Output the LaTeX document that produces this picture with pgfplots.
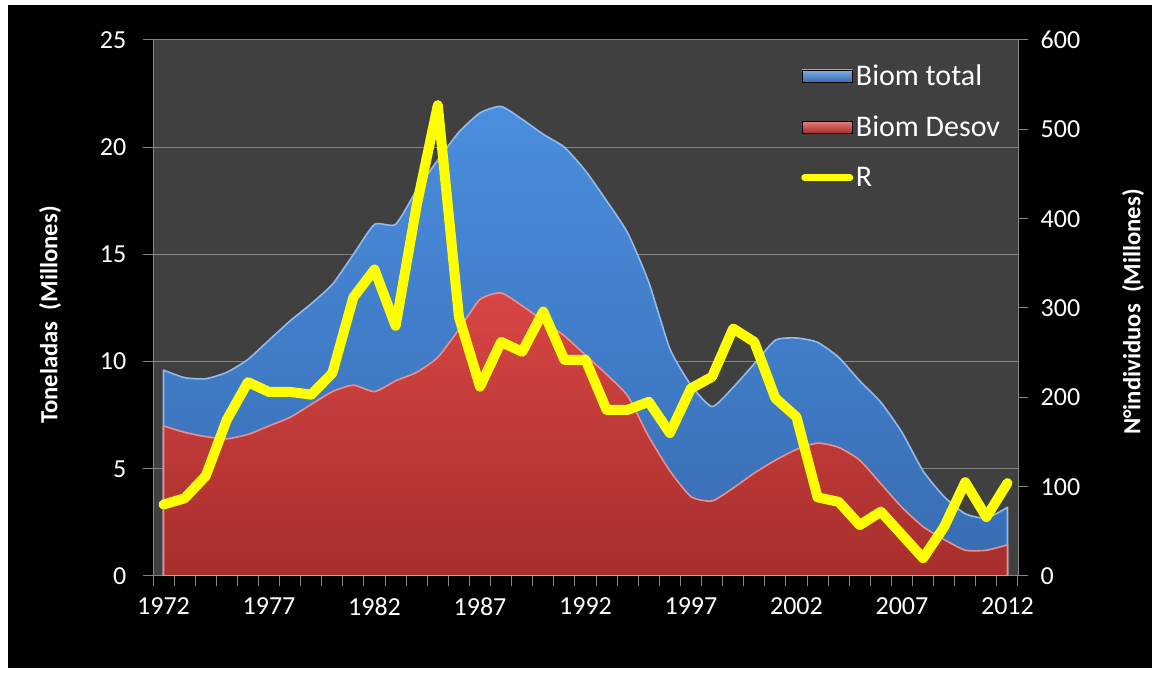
\documentclass[border=0pt]{standalone}
\usepackage{fontspec}
\setmainfont{Carlito}
\usepackage{pgfplots}
\usepackage{pgfplotstable}
\pgfplotsset{compat=1.18}

\definecolor{plotbg}{RGB}{64,64,64}
\definecolor{gridc}{RGB}{134,134,134}
\definecolor{bluetop}{RGB}{74,142,222}
\definecolor{bluebot}{RGB}{56,108,178}
\definecolor{redtop}{RGB}{216,70,68}
\definecolor{redbot}{RGB}{166,46,44}
\definecolor{ryellow}{RGB}{255,255,0}

% biomasa (millones de toneladas)
\pgfplotstableread{
year total desov
1972 9.6 7.0
1973 9.25 6.7
1974 9.2 6.5
1975 9.5 6.4
1976 10.1 6.6
1977 11.0 7.0
1978 11.9 7.4
1979 12.7 8.0
1980 13.6 8.6
1981 15.0 8.9
1982 16.4 8.6
1983 16.4 9.1
1984 18.0 9.5
1985 19.4 10.2
1986 20.7 11.5
1987 21.6 12.9
1988 21.9 13.2
1989 21.3 12.6
1990 20.6 11.9
1991 20.0 11.2
1992 18.9 10.3
1993 17.5 9.4
1994 16.0 8.4
1995 13.7 6.5
1996 10.6 4.9
1997 8.9 3.7
1998 7.9 3.5
1999 8.8 4.1
2000 9.9 4.8
2001 11.0 5.4
2002 11.1 5.9
2003 10.9 6.2
2004 10.2 6.0
2005 9.1 5.4
2006 8.1 4.3
2007 6.7 3.2
2008 4.9 2.3
2009 3.7 1.7
2010 2.9 1.2
2011 2.7 1.2
2012 3.2 1.45
}\biom

% reclutamiento (millones de individuos)
\pgfplotstableread{
year R
1972 80
1973 87
1974 112
1975 175
1976 217
1977 206
1978 206
1979 203
1980 227
1981 312
1982 343
1983 280
1984 415
1985 527
1986 290
1987 212
1988 262
1989 251
1990 296
1991 242
1992 242
1993 186
1994 186
1995 195
1996 160
1997 210
1998 223
1999 277
2000 262
2001 199
2002 178
2003 88
2004 83
2005 57
2006 72
2007 46
2008 20
2009 55
2010 105
2011 66
2012 104
}\recl

\pgfplotsset{
  base/.style={
    at={(114.75pt,72.75pt)}, anchor=south west, scale only axis,
    width=648.75pt, height=402pt,
    xmin=1971.5, xmax=2012.5,
    axis line style={gridc, line width=0.75pt, -},
    tick style={gridc, line width=0.75pt},
    tick align=outside,
    major tick length=7.5pt,
    ticklabel style={text=white, font=\fontsize{19.5}{21}\selectfont},
    /pgf/number format/assume math mode=true,
  }
}

\begin{document}
\begin{tikzpicture}[x=1pt,y=1pt]
\fill[white] (0,0) rectangle (870,504.75);
\fill[black] (6,3.75) rectangle (864,501);

\begin{axis}[base,
  ymin=0, ymax=25,
  axis background/.style={fill=plotbg},
  axis x line*=bottom, axis y line*=left,
  ytick={0,5,...,25}, ymajorgrids,
  grid style={gridc, line width=0.75pt},
  yticklabel style={xshift=-9pt},
  xtick={1971.5,1972.5,...,2012.5},
  xticklabels={},
  extra x ticks={1972,1977,...,2012},
  extra x tick labels={1972,1977,1982,1987,1992,1997,2002,2007,2012},
  extra x tick style={major tick length=0pt,
    xticklabel style={yshift=-13pt}},
]
\addplot[draw=bluetop!60!white, line width=1.2pt, top color=bluetop, bottom color=bluebot, line join=round, smooth, tension=0.35]
  table[x=year, y=total] {\biom} \closedcycle;
\addplot[draw=redtop!60!white, line width=1.2pt, top color=redtop, bottom color=redbot, line join=round, smooth, tension=0.35]
  table[x=year, y=desov] {\biom} \closedcycle;
\end{axis}

\begin{axis}[base,
  ymin=0, ymax=600,
  axis y line*=right, axis x line=none,
  ytick={0,100,...,600},
  yticklabel style={xshift=6pt},
  legend style={at={(rel axis cs:0.7445,0.965)}, anchor=north west,
    draw=none, fill=none, text=white,
    font=\fontsize{22.5}{24}\selectfont, row sep=17.5pt},
  legend cell align=left,
]
\addlegendimage{legend image code/.code={\fill[top color=bluetop!70!white, bottom color=bluebot] (0pt,-4.5pt) rectangle (38pt,4.5pt);}}
\addlegendentry{Biom total}
\addlegendimage{legend image code/.code={\fill[top color=redtop!70!white, bottom color=redbot] (0pt,-4.5pt) rectangle (38pt,4.5pt);}}
\addlegendentry{Biom Desov}
\addplot[ryellow, line width=7.5pt, line join=round, line cap=round,
  legend image code/.code={\draw[ryellow, line width=5pt, line cap=round] (2pt,0pt) -- (36pt,0pt);}]
  table[x=year, y=R] {\recl};
\addlegendentry{R}
\end{axis}

\node[rotate=90, text=white, font=\bfseries\fontsize{18.5}{20}\selectfont] at (37.5,268.5) {Toneladas\ \ (Millones)};
\node[rotate=90, text=white, font=\bfseries\fontsize{18.5}{20}\selectfont] at (849.75,270.75) {N°individuos\ \ (Millones)};
\end{tikzpicture}
\end{document}
